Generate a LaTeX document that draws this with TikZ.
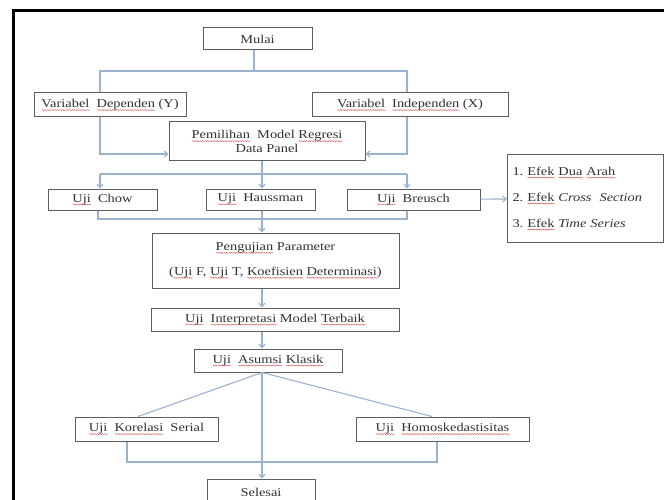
\documentclass[tikz,border=0pt]{standalone}
\usepackage{fontspec}
\setmainfont{Liberation Serif}[FakeStretch=1.2]
\usepackage{xcolor}
\definecolor{colorLine}{RGB}{155,178,206}
\definecolor{colorBox}{RGB}{95,95,95}
\definecolor{colorText}{RGB}{50,50,50}
\definecolor{colorSpell}{RGB}{215,80,80}
\usetikzlibrary{arrows.meta, positioning, decorations.pathmorphing}
\newsavebox{\splbox}
\newcommand{\spl}[1]{\sbox{\splbox}{#1}\rlap{\raisebox{-2.5pt}{\tikz[baseline=0pt]\draw[colorSpell, line width=0.4pt, decorate, decoration={snake, amplitude=0.5pt, segment length=2.5pt}] (0pt,0pt) -- (\wd\splbox,0pt);}}\usebox{\splbox}}

\begin{document}
\begin{tikzpicture}[x=1pt, y=-1pt, >={Straight Barb[length=3.5pt,width=6pt]},
  box/.style={draw=colorBox, line width=1pt, text=colorText, font=\fontsize{12}{14}\selectfont, align=center, inner sep=0pt},
  link/.style={draw=colorLine, line width=1.1pt},
  flow/.style={link, ->}]
\useasboundingbox (0,0) rectangle (664,500);
\clip (0,0) rectangle (664,500);
\fill[white] (0,0) rectangle (664,500);
\draw[line width=3pt] (13.5,10.5) rectangle (690,530);
\node[box, minimum width=109pt, minimum height=22pt] (b0) at (257.5,39) {Mulai};
\node[box, minimum width=152pt, minimum height=24pt] (b1) at (110,105) {\spl{Variabel}\ \ \spl{Dependen} (Y)};
\node[box, minimum width=196pt, minimum height=24pt] (b2) at (410,105) {\spl{Variabel}\ \ \spl{Independen} (X)};
\node[box, minimum width=196pt, minimum height=39pt] (b3) at (267,141.5) {\spl{Pemilihan}\ \ Model \spl{Regresi}\\Data Panel};
\node[box, minimum width=109pt, minimum height=21pt] (b4) at (102.5,199.5) {\spl{Uji}\ \ Chow};
\node[box, minimum width=109pt, minimum height=21pt] (b5) at (260.5,199.5) {\spl{Uji}\ \ Haussman};
\node[box, minimum width=133pt, minimum height=21pt] (b6) at (413.5,199.5) {\spl{Uji}\ \ Breusch};
\node[box, minimum height=87pt, text width=146pt, inner xsep=5pt, align=left, anchor=west] (b7) at (507,198.5) {1.\ \spl{Efek} \spl{Dua} \spl{Arah}\\[12pt]2.\ \spl{Efek} \textit{Cross\ \ Section}\\[12pt]3.\ \spl{Efek} \textit{Time Series}};
\node[box, minimum width=247pt, minimum height=55pt] (b8) at (275.5,260.5) {\spl{Pengujian} Parameter\\[11pt](\spl{Uji} F, \spl{Uji} T, \spl{Koefisien} \spl{Determinasi})};
\node[box, minimum width=248pt, minimum height=23pt] (b9) at (275,319.5) {\spl{Uji}\ \ \spl{Interpretasi} Model \spl{Terbaik}};
\node[box, minimum width=148pt, minimum height=23pt] (b10) at (268,360.5) {\spl{Uji}\ \ \spl{Asumsi} \spl{Klasik}};
\node[box, minimum width=143pt, minimum height=24pt] (b11) at (146.5,429) {\spl{Uji}\ \ \spl{Korelasi}\ \ Serial};
\node[box, minimum width=173pt, minimum height=24pt] (b12) at (442.5,429) {\spl{Uji}\ \ \spl{Homoskedastisitas}};
\node[box, minimum width=108pt, minimum height=26pt] (b13) at (261,492) {Selesai};
\coordinate (spine) at (262,0);
\coordinate (jl) at (100,71);
\coordinate (jr) at (407,71);
\coordinate (sl) at (100,174);
\coordinate (sr) at (407,174);
\coordinate (tl) at (98,219);
\coordinate (tr) at (407,219);
\coordinate (kl) at (127,462);
\coordinate (kr) at (437,462);
\draw[link] (b0.south -| 254,0) -- (254,71);
\draw[link] (b1.north -| jl) -- (jl) -- (jr) -- (b2.north -| jr);
\draw[flow] (b1.south -| jl) |- ([yshift=-12.5pt]b3.west);
\draw[flow] (b2.south -| jr) |- ([yshift=-12.5pt]b3.east);
\draw[link] (b3.south -| spine) -- (spine |- sl);
\draw[link] (sl) -- (sr);
\draw[flow] (sl) -- (b4.north -| sl);
\draw[flow] (spine |- sl) -- (b5.north -| spine);
\draw[flow] (sr) -- (b6.north -| sr);
\draw[flow] (b6) -- (b7);
\draw[link] (b4.south -| tl) -- (tl) -- (tr) -- (b6.south -| tr);
\draw[flow] (b5.south -| spine) -- (b8.north -| spine);
\draw[flow] (b8.south -| spine) -- (b9.north -| spine);
\draw[flow] (b9.south -| spine) -- (b10.north -| spine);
\draw[link] (b10.south -| spine) -- ([xshift=-8.5pt]b11.north);
\draw[link] (b10.south -| spine) -- ([xshift=-10.5pt]b12.north);
\draw[flow] (b10.south -| spine) -- (b13.north -| spine);
\draw[link] (b11.south -| kl) -- (kl) -- (kr) -- (b12.south -| kr);
\end{tikzpicture}
\end{document}
